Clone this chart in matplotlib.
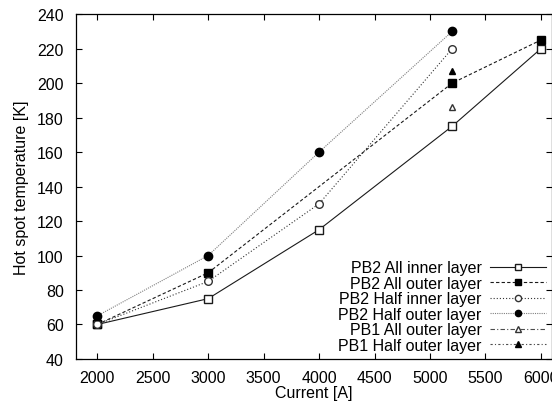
import matplotlib
matplotlib.use('Agg')
import matplotlib.pyplot as plt

plt.rcParams['font.family'] = ['Liberation Sans', 'DejaVu Sans']

# data
x_all_inner = [2000, 3000, 4000, 5200, 6000]
y_all_inner = [60, 75, 115, 175, 220]
x_all_outer = [2000, 3000, 5200, 6000]
y_all_outer = [60, 90, 200, 225]
x_half_inner = [2000, 3000, 4000, 5200]
y_half_inner = [60, 85, 130, 220]
x_half_outer = [2000, 3000, 4000, 5200]
y_half_outer = [65, 100, 160, 230]
x_pb1_all = [5200]
y_pb1_all = [186]
x_pb1_half = [5200]
y_pb1_half = [207]

fs = 11.5

fig = plt.figure(figsize=(5.52, 4.10), dpi=100)
ax = fig.add_axes([0.138, 0.122, 0.862, 0.841])

lw = 0.8
ax.plot(x_all_inner, y_all_inner, color='0.1', lw=lw, ls='-', marker='s',
        mfc='white', mec='0.1', ms=6, label='PB2 All inner layer')
ax.plot(x_all_outer, y_all_outer, color='0.1', lw=lw, ls=(0, (3, 2)), marker='s',
        mfc='black', mec='black', ms=6, label='PB2 All outer layer')
ax.plot(x_half_inner, y_half_inner, color='0.2', lw=lw, ls=(0, (1, 1.8)), marker='o',
        mfc='white', mec='0.2', ms=5.5, label='PB2 Half inner layer')
ax.plot(x_half_outer, y_half_outer, color='0.5', lw=lw, ls=(0, (1, 1)), marker='o',
        mfc='black', mec='black', ms=6, label='PB2 Half outer layer')
ax.plot(x_pb1_all, y_pb1_all, color='0.3', lw=lw, ls=(0, (4, 2, 1, 2)), marker='^',
        mfc='white', mec='0.2', ms=5, label='PB1 All outer layer')
ax.plot(x_pb1_half, y_pb1_half, color='0.3', lw=lw, ls=(0, (2, 2, 1, 2)), marker='^',
        mfc='black', mec='black', ms=5, label='PB1 Half outer layer')

ax.set_xlim(1810, 6100)
ax.set_ylim(40, 240)
ax.set_xticks(range(2000, 6001, 500))
ax.set_yticks(range(40, 241, 20))
ax.tick_params(direction='in', top=True, right=True, labelsize=fs, length=4, width=0.8)
ax.tick_params(axis='x', pad=8)
ax.tick_params(axis='y', pad=9)
for s in ax.spines.values():
    s.set_linewidth(0.9)

ax.set_xlabel('Current [A]', fontsize=fs, labelpad=0)
ax.set_ylabel('Hot spot temperature [K]', fontsize=fs, labelpad=6)

leg = ax.legend(loc='lower right', frameon=False, markerfirst=False, fontsize=fs,
                handlelength=3.5, labelspacing=0.03, borderaxespad=0.2,
                handletextpad=0.5, borderpad=0.2)
for t in leg.get_texts():
    t.set_ha('right')
leg._legend_box.align = 'right'
for h in leg.legend_handles:
    h.set_markersize(4.5)

fig.savefig('out.png', dpi=100)
